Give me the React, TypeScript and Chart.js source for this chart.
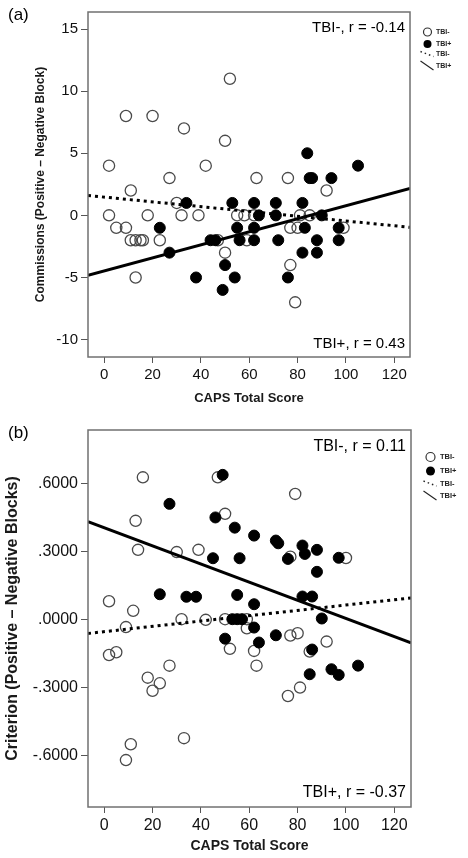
import React, { useEffect, useRef } from "react";
import { Chart, registerables } from "chart.js";

Chart.register(...registerables);

const FONT = "'Liberation Sans', Arial, Helvetica, sans-serif";

// ---------- shared ----------
const xTickValues = [0, 20, 40, 60, 80, 100, 120];
const xTickLabels = ["0", "20", "40", "60", "80", "100", "120"];
const xTitle = "CAPS Total Score";
const legendLabels = ["TBI-", "TBI+", "TBI-", "TBI+"];

// ---------- panel (a) ----------
const aLetter = "(a)";
const aYTitle = "Commissions (Positive – Negative Block)";
const aYTickValues = [-10, -5, 0, 5, 10, 15];
const aYTickLabels = ["-10", "-5", "0", "5", "10", "15"];
const aNegCaps = [2, 9, 11, 20, 27, 33, 42, 50, 52, 63, 76, 92, 30, 2, 5, 9, 11, 13, 15, 16, 18, 23, 32, 39, 13, 50, 55, 58, 59, 62, 77, 80, 81, 85, 77, 79, 99, 47];
const aNegVal = [4, 8, 2, 8, 3, 7, 4, 6, 11, 3, 3, 2, 1, 0, -1, -1, -2, -2, -2, -2, 0, -2, 0, 0, -5, -3, 0, 0, -2, 0, -1, -1, 0, 0, -4, -7, -1, -2];
const aPosCaps = [84, 85, 86, 94, 105, 34, 23, 27, 38, 44, 46, 53, 55, 56, 50, 54, 49, 62, 62, 62, 64, 71, 71, 72, 76, 82, 83, 82, 88, 88, 90, 97, 97];
const aPosVal = [5, 3, 3, 3, 4, 1, -1, -3, -5, -2, -2, 1, -1, -2, -4, -5, -6, 1, -1, -2, 0, 1, 0, -2, -5, 1, -1, -3, -2, -3, 0, -1, -2];
const aNegFitX = [-6.7, 126.5];
const aNegFitY = [1.6, -0.96];
const aPosFitX = [-6.7, 126.5];
const aPosFitY = [-4.82, 2.16];
const aNegLabel = "TBI-, r = -0.14";
const aPosLabel = "TBI+, r = 0.43";

// ---------- panel (b) ----------
const bLetter = "(b)";
const bYTitle = "Criterion (Positive – Negative Blocks)";
const bYTickValues = [-0.6, -0.3, 0, 0.3, 0.6];
const bYTickLabels = ["-.6000", "-.3000", ".0000", ".3000", ".6000"];
const bNegCaps = [16, 47, 79, 50, 13, 14, 30, 39, 77, 100, 2, 12, 32, 42, 50, 59, 59, 9, 77, 80, 92, 2, 5, 18, 20, 23, 27, 33, 11, 9, 52, 62, 63, 85, 76, 81];
const bNegVal = [0.626, 0.626, 0.553, 0.465, 0.434, 0.306, 0.296, 0.306, 0.276, 0.27, 0.079, 0.037, 0.0, -0.003, 0.0, 0.0, -0.04, -0.035, -0.072, -0.062, -0.099, -0.158, -0.146, -0.258, -0.316, -0.283, -0.205, -0.525, -0.552, -0.622, -0.131, -0.14, -0.205, -0.143, -0.339, -0.302];
const bPosCaps = [49, 27, 46, 54, 62, 71, 72, 82, 83, 88, 76, 45, 56, 97, 88, 23, 34, 38, 55, 82, 86, 62, 90, 53, 55, 57, 62, 50, 64, 71, 86, 85, 94, 97, 105];
const bPosVal = [0.637, 0.509, 0.449, 0.404, 0.369, 0.347, 0.335, 0.325, 0.288, 0.306, 0.266, 0.269, 0.269, 0.271, 0.209, 0.11, 0.099, 0.099, 0.107, 0.1, 0.1, 0.066, 0.003, 0.0, 0.0, 0.0, -0.037, -0.086, -0.103, -0.071, -0.134, -0.243, -0.221, -0.246, -0.205];
const bNegFitX = [-6.7, 126.9];
const bNegFitY = [-0.063, 0.094];
const bPosFitX = [-6.7, 126.9];
const bPosFitY = [0.431, -0.104];
const bNegLabel = "TBI-, r = 0.11";
const bPosLabel = "TBI+, r = -0.37";

function pts(xs: number[], ys: number[]) {
  return xs.map((x, i) => ({ x, y: ys[i] }));
}

function decorPlugin(s: any) {
  return {
    id: "decor",
    afterDatasetsDraw(chart: any) {
      const { ctx, chartArea: ca } = chart;
      ctx.save();
      // frame
      ctx.strokeStyle = "#707070";
      ctx.lineWidth = 1.5;
      ctx.strokeRect(ca.left, ca.top, ca.right - ca.left, ca.bottom - ca.top);
      // annotations
      ctx.fillStyle = "#000";
      ctx.font = `${s.annSize}px ${FONT}`;
      ctx.textAlign = "right";
      ctx.textBaseline = "middle";
      ctx.fillText(s.negLabel, ca.right - 5, ca.top + s.annTop);
      ctx.fillText(s.posLabel, ca.right - 5, ca.bottom - s.annBottom);
      // panel letter
      ctx.textAlign = "left";
      ctx.font = `17px ${FONT}`;
      ctx.fillText(s.letter, 8, s.letterY);
      // legend
      const L = s.legend;
      ctx.lineWidth = 1.2;
      ctx.strokeStyle = "#333";
      ctx.beginPath();
      ctx.arc(L.cx, L.ys[0], L.r, 0, Math.PI * 2);
      ctx.stroke();
      ctx.fillStyle = "#000";
      ctx.beginPath();
      ctx.arc(L.cx, L.ys[1], L.r, 0, Math.PI * 2);
      ctx.fill();
      ctx.strokeStyle = "#222";
      ctx.lineWidth = 1.4;
      ctx.setLineDash([1.5, 3]);
      ctx.beginPath();
      ctx.moveTo(L.cx - 7, L.ys[2] - 3);
      ctx.lineTo(L.cx + 6, L.ys[2] + 2);
      ctx.stroke();
      ctx.setLineDash([]);
      ctx.lineWidth = 1.1;
      ctx.beginPath();
      ctx.moveTo(L.cx - 7, L.ys[3] - 5);
      ctx.lineTo(L.cx + 6, L.ys[3] + 4);
      ctx.stroke();
      ctx.fillStyle = "#222";
      ctx.font = `bold ${L.size}px ${FONT}`;
      ctx.textAlign = "left";
      legendLabels.forEach((t, i) => ctx.fillText(t, L.tx, L.ys[i]));
      ctx.restore();
    },
  };
}

function makeConfig(s: any): any {
  return {
    type: "scatter",
    data: {
      datasets: [
        {
          type: "line",
          data: pts(s.posFitX, s.posFitY),
          borderColor: "#000",
          borderWidth: 3,
          pointRadius: 0,
          fill: false,
        },
        {
          type: "line",
          data: pts(s.negFitX, s.negFitY),
          borderColor: "#000",
          borderWidth: 3,
          borderDash: [3, 4],
          pointRadius: 0,
          fill: false,
        },
        {
          data: pts(s.posCaps, s.posVal),
          pointRadius: 5.5,
          backgroundColor: "#000",
          borderColor: "#000",
          borderWidth: 1,
        },
        {
          data: pts(s.negCaps, s.negVal),
          pointRadius: 5.6,
          backgroundColor: "rgba(0,0,0,0)",
          borderColor: "#4a4a4a",
          borderWidth: 1.3,
        },
      ],
    },
    options: {
      responsive: false,
      animation: false,
      devicePixelRatio: 1,
      layout: { padding: { left: 0, top: s.padTop, right: s.padRight, bottom: s.padBottom } },
      plugins: { legend: { display: false }, tooltip: { enabled: false } },
      scales: {
        x: {
          type: "linear",
          min: s.xMin,
          max: s.xMax,
          afterBuildTicks: (sc: any) => {
            sc.ticks = xTickValues.map((v) => ({ value: v }));
          },
          afterFit: (sc: any) => {
            sc.height = s.xAxisH;
          },
          ticks: {
            callback: (v: number) => xTickLabels[xTickValues.indexOf(v)],
            font: { family: FONT, size: s.tickSize },
            color: "#111",
            padding: 3,
            maxRotation: 0,
          },
          grid: { drawOnChartArea: false, drawTicks: true, tickLength: 6, color: "#555" },
          border: { display: false },
          title: {
            display: true,
            text: xTitle,
            font: { family: FONT, size: s.xTitleSize, weight: "bold" },
            color: "#1a1a1a",
            padding: { top: 0, bottom: 0 },
          },
        },
        y: {
          type: "linear",
          min: s.yMin,
          max: s.yMax,
          afterBuildTicks: (sc: any) => {
            sc.ticks = s.yTickValues.map((v: number) => ({ value: v }));
          },
          afterFit: (sc: any) => {
            sc.width = 88;
          },
          ticks: {
            callback: (v: number) => s.yTickLabels[s.yTickValues.indexOf(v)],
            font: { family: FONT, size: s.tickSize },
            color: "#111",
            padding: 3,
          },
          grid: { drawOnChartArea: false, drawTicks: true, tickLength: 7, color: "#555" },
          border: { display: false },
          title: {
            display: true,
            text: s.yTitle,
            font: { family: FONT, size: s.yTitleSize, weight: "bold" },
            color: "#1a1a1a",
            padding: { top: s.yTitlePad, bottom: 0 },
          },
        },
      },
    },
    plugins: [decorPlugin(s)],
  };
}

const specA = {
  letter: aLetter,
  yTitle: aYTitle,
  yTickValues: aYTickValues,
  yTickLabels: aYTickLabels,
  negCaps: aNegCaps,
  negVal: aNegVal,
  posCaps: aPosCaps,
  posVal: aPosVal,
  negFitX: aNegFitX,
  negFitY: aNegFitY,
  posFitX: aPosFitX,
  posFitY: aPosFitY,
  negLabel: aNegLabel,
  posLabel: aPosLabel,
  xMin: -6.7,
  xMax: 126.5,
  yMin: -11.4,
  yMax: 16.37,
  padTop: 7,
  padRight: 58,
  padBottom: 9,
  xAxisH: 49,
  tickSize: 15,
  xTitleSize: 13,
  yTitleSize: 12,
  yTitlePad: 33,
  annSize: 15,
  annTop: 16,
  annBottom: 13,
  letterY: 15,
  legend: { cx: 427.5, r: 4, ys: [32, 44, 54.5, 66], tx: 436, size: 7 },
};

const specB = {
  letter: bLetter,
  yTitle: bYTitle,
  yTickValues: bYTickValues,
  yTickLabels: bYTickLabels,
  negCaps: bNegCaps,
  negVal: bNegVal,
  posCaps: bPosCaps,
  posVal: bPosVal,
  negFitX: bNegFitX,
  negFitY: bNegFitY,
  posFitX: bPosFitX,
  posFitY: bPosFitY,
  negLabel: bNegLabel,
  posLabel: bPosLabel,
  xMin: -6.7,
  xMax: 126.9,
  yMin: -0.829,
  yMax: 0.835,
  padTop: 15,
  padRight: 57,
  padBottom: 3,
  xAxisH: 48,
  tickSize: 16,
  xTitleSize: 14,
  yTitleSize: 16,
  yTitlePad: 3.4,
  annSize: 16,
  annTop: 17,
  annBottom: 14,
  letterY: 18,
  legend: { cx: 430.5, r: 4.5, ys: [42, 56, 69, 81], tx: 440, size: 7.5 },
};

function Panel({ top, height, spec }: { top: number; height: number; spec: any }) {
  const ref = useRef<HTMLCanvasElement | null>(null);
  useEffect(() => {
    if (!ref.current) return;
    const chart = new Chart(ref.current, makeConfig(spec));
    return () => chart.destroy();
  }, [spec]);
  return (
    <canvas
      ref={ref}
      width={468}
      height={height}
      style={{ position: "absolute", left: 0, top, width: 468, height, display: "block" }}
    />
  );
}

export default function App() {
  return (
    <div style={{ position: "absolute", left: 0, top: 0, width: 468, height: 858, background: "#fff" }}>
      <Panel top={0} height={415} spec={specA} />
      <Panel top={415} height={443} spec={specB} />
    </div>
  );
}
